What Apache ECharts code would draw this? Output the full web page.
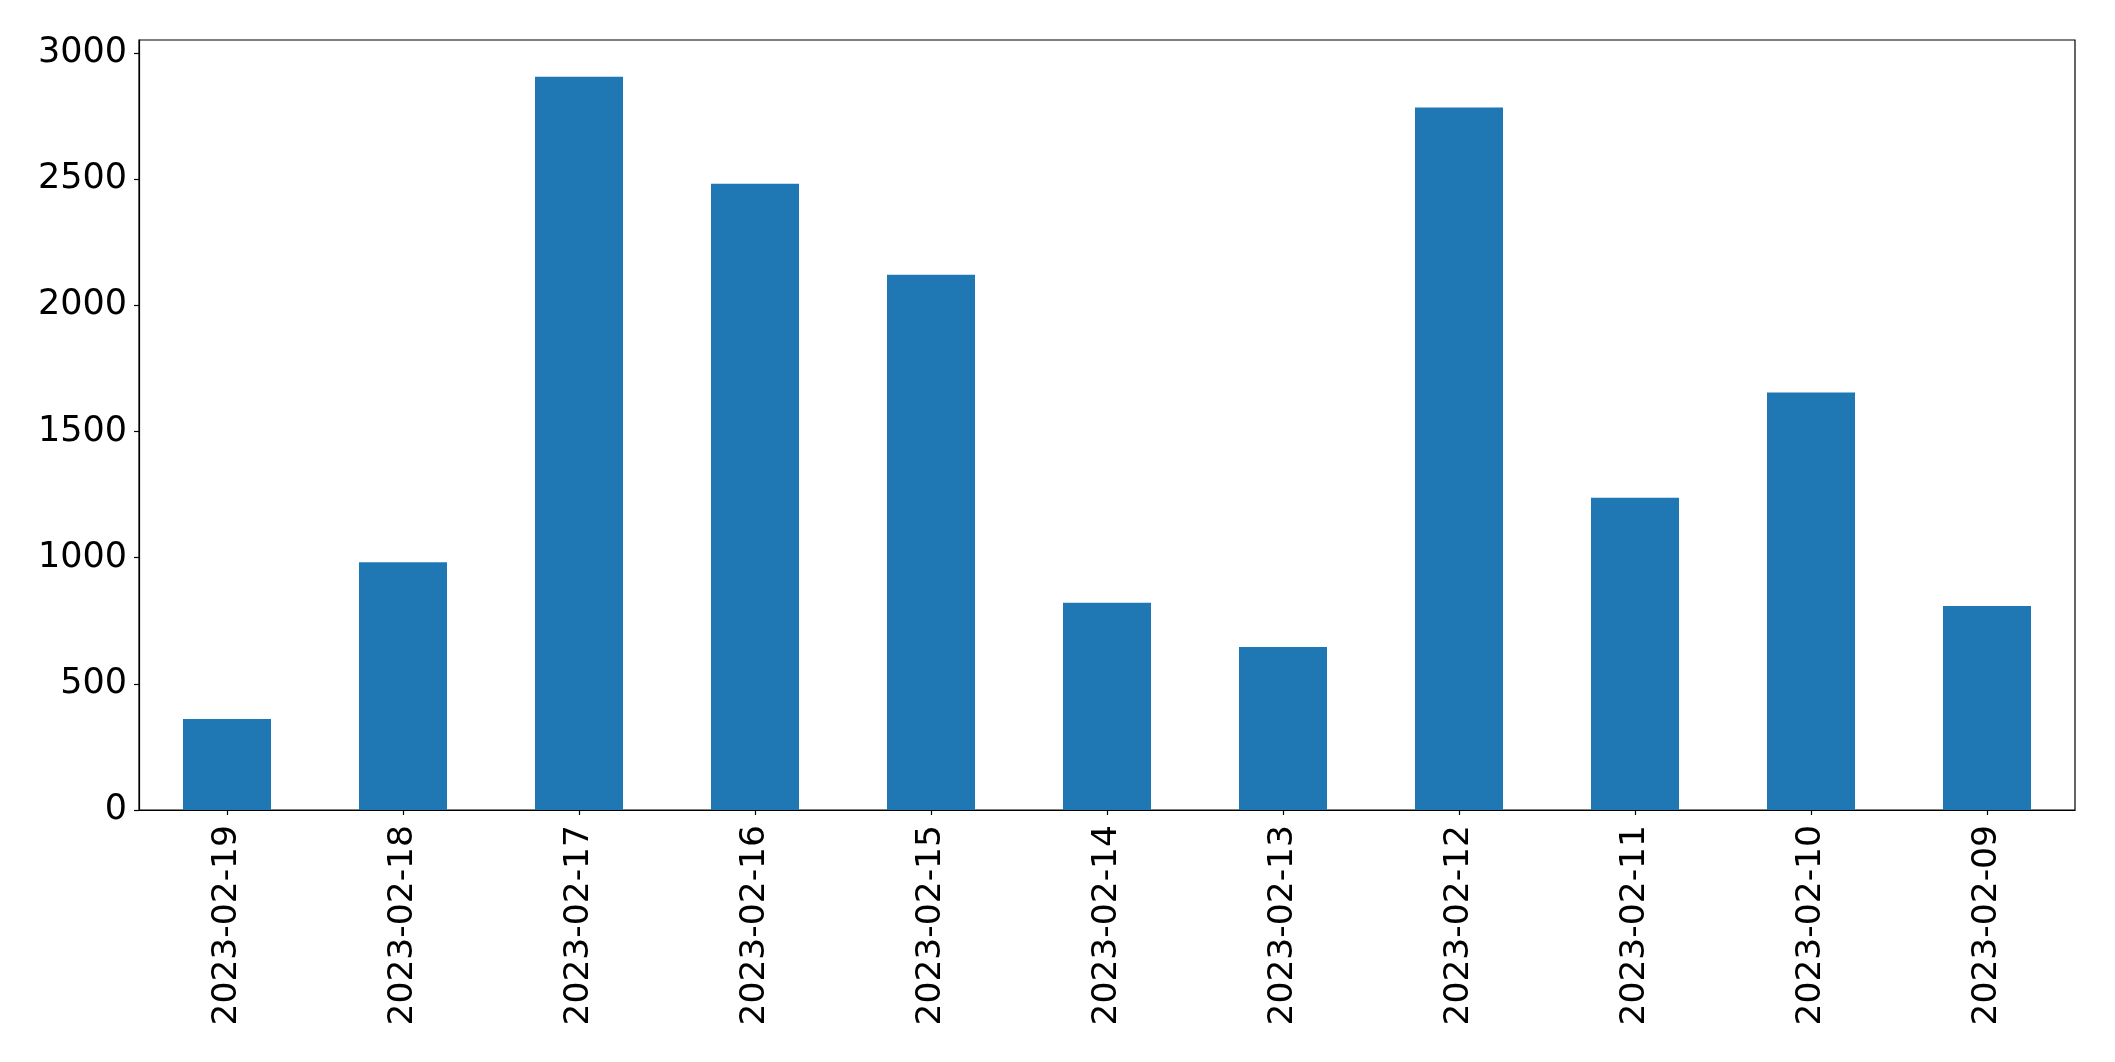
<!DOCTYPE html>
<html>
<head>
<meta charset="utf-8">
<script src="https://cdn.jsdelivr.net/npm/echarts@6/dist/echarts.min.js"></script>
<style>
html,body{margin:0;padding:0;background:#fff;}
#chart{width:2115px;height:1062px;}
</style>
</head>
<body>
<div id="chart"></div>
<script>
const categories = ["2023-02-19","2023-02-18","2023-02-17","2023-02-16","2023-02-15","2023-02-14","2023-02-13","2023-02-12","2023-02-11","2023-02-10","2023-02-09"];
const values = [361, 982, 2906, 2482, 2121, 821, 646, 2784, 1237, 1654, 808];
const yTicks = [0, 500, 1000, 1500, 2000, 2500, 3000];

const chart = echarts.init(document.getElementById('chart'), null, {renderer: 'canvas'});
const font = 'DejaVu Sans';
chart.setOption({
  animation: false,
  backgroundColor: '#ffffff',
  grid: {left: 139, right: 40, top: 40, bottom: 252, show: true, borderColor: '#000', borderWidth: 1.2, backgroundColor: 'transparent'},
  xAxis: {
    type: 'category',
    data: categories,
    boundaryGap: true,
    axisLine: {show: true, lineStyle: {color: '#000', width: 1.2}},
    axisTick: {show: true, alignWithLabel: true, length: 5, lineStyle: {color: '#000', width: 1.2}},
    axisLabel: {rotate: 90, margin: 15, color: '#000', fontFamily: font, fontSize: 34.5, interval: 0}
  },
  yAxis: {
    type: 'value',
    min: 0,
    max: Math.max(...values) * 1.05,
    splitLine: {show: false},
    axisLine: {show: true, lineStyle: {color: '#000', width: 1.2}},
    axisTick: {show: true, length: 5, lineStyle: {color: '#000', width: 1.2}, customValues: yTicks},
    axisLabel: {margin: 12, color: '#000', fontFamily: font, fontSize: 35, customValues: yTicks,
      formatter: function (v) { return String(v); }}
  },
  series: [{
    type: 'bar',
    data: values,
    barWidth: '50%',
    itemStyle: {color: '#1f77b4'}
  }]
});
</script>
</body>
</html>
